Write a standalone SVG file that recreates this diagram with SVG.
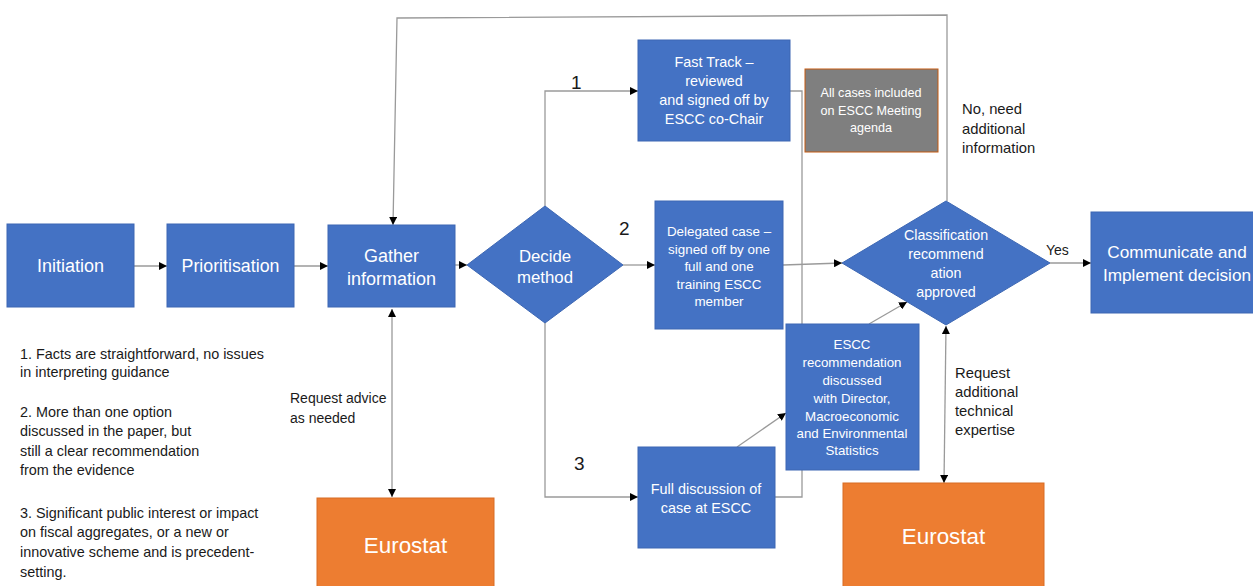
<svg xmlns="http://www.w3.org/2000/svg" width="1253" height="586" viewBox="0 0 1253 586">
<defs>
<marker id="ah" viewBox="0 0 10 10" refX="10" refY="5" markerWidth="8" markerHeight="8" markerUnits="userSpaceOnUse" orient="auto-start-reverse">
<path d="M0,0 L10,5 L0,10 z" fill="#000"/>
</marker>
<style>
.box{fill:#4472c4;stroke:#3d67b3;stroke-width:1}
.eu{fill:#ed7d31;stroke:#d86d25;stroke-width:1}
.wt{fill:#fff;font-family:"Liberation Sans",Arial,sans-serif;text-anchor:middle}
.bt{fill:#1a1a1a;font-family:"Liberation Sans",Arial,sans-serif}
.ln{fill:none;stroke:#9a9a9a;stroke-width:1.3}
.la{fill:none;stroke:#9a9a9a;stroke-width:1.3;marker-end:url(#ah)}
.lb{fill:none;stroke:#9a9a9a;stroke-width:1.3;marker-end:url(#ah);marker-start:url(#ah)}
</style>
</defs>
<rect width="1253" height="586" fill="#fff"/>

<g id="connectors">
<line class="la" x1="134" y1="266" x2="167" y2="266"/>
<line class="la" x1="294" y1="266" x2="328" y2="266"/>
<line class="la" x1="455" y1="265" x2="467" y2="265"/>
<polyline class="la" points="947,201 947,15 397,18 393,225"/>
<polyline class="la" points="545,206 545,91 638,91"/>
<line class="la" x1="623" y1="265" x2="655" y2="265"/>
<polyline class="la" points="545,323 545,497 638,497"/>
<polyline class="ln" points="790,91 802,91 802,497 773,497"/>
<line class="la" x1="783" y1="265" x2="842" y2="263"/>
<line class="la" x1="737" y1="447" x2="786" y2="413"/>
<line class="la" x1="869" y1="324" x2="907" y2="302"/>
<line class="la" x1="1050" y1="263" x2="1091" y2="263"/>
<line class="lb" x1="392" y1="309" x2="392" y2="497"/>
<line class="lb" x1="946" y1="326" x2="944" y2="483"/>
</g>

<g id="initiation">
<rect class="box" x="7" y="224" width="127" height="83"/>
<text class="wt" x="70.5" y="272" font-size="18">Initiation</text>
</g>
<g id="prioritisation">
<rect class="box" x="167" y="224" width="127" height="83"/>
<text class="wt" x="230.5" y="272" font-size="17.8">Prioritisation</text>
</g>
<g id="gather">
<rect class="box" x="328" y="225" width="127" height="82"/>
<text class="wt" x="391.5" y="262" font-size="18">Gather</text>
<text class="wt" x="391.5" y="285" font-size="18">information</text>
</g>
<g id="decide">
<polygon class="box" points="467,265 545,206 623,265 545,323"/>
<text class="wt" x="545" y="262" font-size="16.8">Decide</text>
<text class="wt" x="545" y="283" font-size="16.8">method</text>
</g>
<g id="fasttrack">
<rect class="box" x="638" y="40" width="152" height="101"/>
<text class="wt" x="714" y="67" font-size="14.4">Fast Track –</text>
<text class="wt" x="714" y="86" font-size="14.4">reviewed</text>
<text class="wt" x="714" y="105" font-size="14.4">and signed off by</text>
<text class="wt" x="714" y="124" font-size="14.4">ESCC co-Chair</text>
</g>
<g id="delegated">
<rect class="box" x="655" y="201" width="128" height="128"/>
<text class="wt" x="719" y="236" font-size="13.4">Delegated case –</text>
<text class="wt" x="719" y="254" font-size="13.4">signed off by one</text>
<text class="wt" x="719" y="271" font-size="13.4">full and one</text>
<text class="wt" x="719" y="289" font-size="13.4">training ESCC</text>
<text class="wt" x="719" y="306" font-size="13.4">member</text>
</g>
<g id="agenda">
<rect x="805" y="69" width="133" height="83" fill="#7f7f7f" stroke="#c55a11" stroke-width="1"/>
<text class="wt" x="871" y="97" font-size="12.6">All cases included</text>
<text class="wt" x="871" y="115" font-size="12.6">on ESCC Meeting</text>
<text class="wt" x="871" y="132" font-size="12.6">agenda</text>
</g>
<g id="classification">
<polygon class="box" points="842,263 946,201 1050,263 946,325"/>
<text class="wt" x="946" y="240" font-size="14.3">Classification</text>
<text class="wt" x="946" y="259" font-size="14.3">recommend</text>
<text class="wt" x="946" y="278" font-size="14.3">ation</text>
<text class="wt" x="946" y="297" font-size="14.3">approved</text>
</g>
<g id="communicate">
<rect class="box" x="1091" y="212" width="166" height="101"/>
<text class="wt" x="1177" y="258" font-size="17.2">Communicate and</text>
<text class="wt" x="1177" y="281" font-size="17.2">Implement decision</text>
</g>
<g id="escc-rec">
<rect class="box" x="786" y="324" width="133" height="146"/>
<text class="wt" x="852" y="349" font-size="13.3">ESCC</text>
<text class="wt" x="852" y="367" font-size="13.3">recommendation</text>
<text class="wt" x="852" y="385" font-size="13.3">discussed</text>
<text class="wt" x="852" y="403" font-size="13.3">with Director,</text>
<text class="wt" x="852" y="421" font-size="13.3">Macroeconomic</text>
<text class="wt" x="852" y="438" font-size="13.3">and Environmental</text>
<text class="wt" x="852" y="455" font-size="13.3">Statistics</text>
</g>
<g id="full">
<rect class="box" x="638" y="447" width="137" height="101"/>
<text class="wt" x="706" y="494" font-size="14.4">Full discussion of</text>
<text class="wt" x="706" y="513" font-size="14.4">case at ESCC</text>
</g>
<g id="eurostat1">
<rect class="eu" x="317" y="498" width="177" height="92"/>
<text class="wt" x="405.5" y="553" font-size="22.4">Eurostat</text>
</g>
<g id="eurostat2">
<rect class="eu" x="843" y="483" width="201" height="107"/>
<text class="wt" x="943.5" y="544" font-size="22.4">Eurostat</text>
</g>

<g id="labels">
<text class="bt" x="571" y="89" font-size="19">1</text>
<text class="bt" x="619" y="235" font-size="19">2</text>
<text class="bt" x="574" y="470" font-size="19">3</text>
<text class="bt" x="1046" y="255" font-size="14">Yes</text>
<text class="bt" x="962" y="114" font-size="14.8">No, need</text>
<text class="bt" x="962" y="134" font-size="14.8">additional</text>
<text class="bt" x="962" y="153" font-size="14.8">information</text>
<text class="bt" x="290" y="403" font-size="14">Request advice</text>
<text class="bt" x="290" y="423" font-size="14">as needed</text>
<text class="bt" x="955" y="378" font-size="14.8">Request</text>
<text class="bt" x="955" y="397" font-size="14.8">additional</text>
<text class="bt" x="955" y="416" font-size="14.8">technical</text>
<text class="bt" x="955" y="435" font-size="14.8">expertise</text>
</g>
<g id="notes">
<text class="bt" x="20" y="359" font-size="14.4">1. Facts are straightforward, no issues</text>
<text class="bt" x="20" y="377" font-size="14.4">in interpreting guidance</text>
<text class="bt" x="20" y="417" font-size="14.4">2. More than one option</text>
<text class="bt" x="20" y="436" font-size="14.4">discussed in the paper, but</text>
<text class="bt" x="20" y="456" font-size="14.4">still a clear recommendation</text>
<text class="bt" x="20" y="475" font-size="14.4">from the evidence</text>
<text class="bt" x="20" y="518" font-size="14.4">3. Significant public interest or impact</text>
<text class="bt" x="20" y="537" font-size="14.4">on fiscal aggregates, or a new or</text>
<text class="bt" x="20" y="557" font-size="14.4">innovative scheme and is precedent-</text>
<text class="bt" x="20" y="577" font-size="14.4">setting.</text>
</g>
</svg>
